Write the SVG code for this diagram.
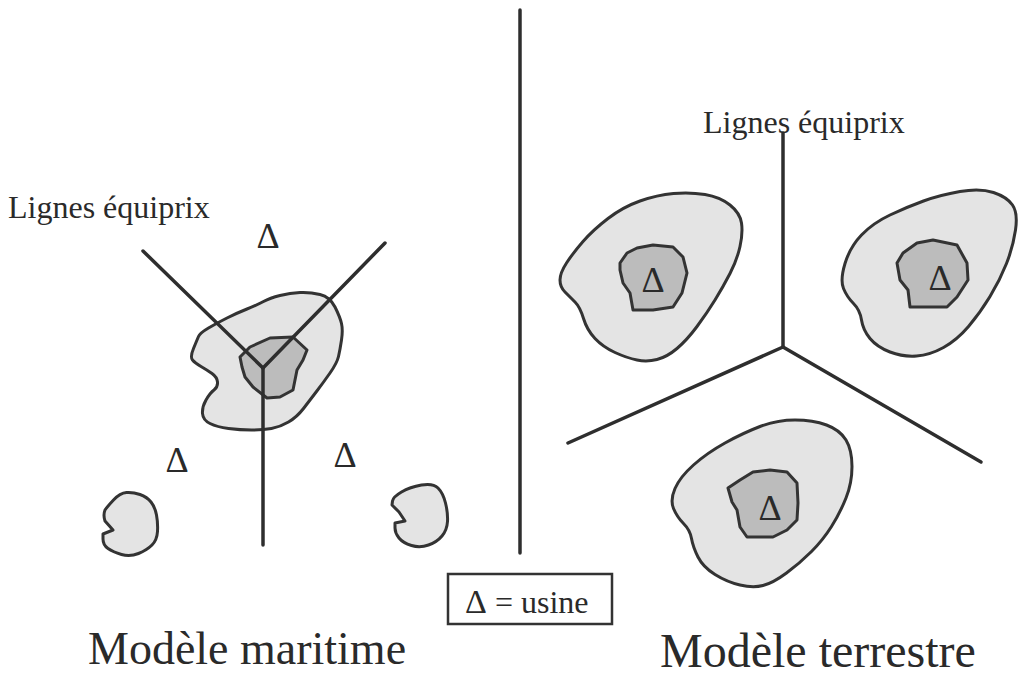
<svg xmlns="http://www.w3.org/2000/svg" width="1019" height="681" viewBox="0 0 1019 681">
<style>
.outer{fill:#e4e4e4;stroke:#333;stroke-width:3;stroke-linejoin:round}
.inner{fill:#bcbcbc;stroke:#333;stroke-width:3;stroke-linejoin:round}
.ln{stroke:#2e2e2e;stroke-width:3.5;fill:none;stroke-linecap:round}
.t{font-family:"Liberation Serif","Times New Roman",serif;fill:#2a2a2a}
.u{font-family:"Liberation Serif","Times New Roman",serif;fill:#2a2a2a;font-size:36px;text-anchor:middle}
</style>
<rect width="1019" height="681" fill="#fff"/>

<g id="maritime-blob">
<path class="outer" d="M263.5,301.5 Q270,298 280,295.5 Q290,293 300,292.5 Q310,292 320,294.5 Q330,297 335,307 Q340,317 341.5,323.5 Q343,330 341.5,340 Q340,350 338.5,356.5 Q337,363 330,373 Q323,383 316.5,391.5 Q310,400 303.5,408.5 Q297,417 288.5,422 Q280,427 271.5,428.5 Q263,430 251.5,430 Q240,430 228.5,428.5 Q217,427 210,423.5 Q203,420 202.5,413.5 Q202,407 206,400 Q210,393 214,390 Q218,387 217.5,382 Q217,377 212,373.5 Q207,370 201,366.5 Q195,363 192.5,360 Q190,357 193.5,348.5 Q197,340 198.5,336.5 Q200,333 208.5,328 Q217,323 227,318 Q237,313 247,309 Q257,305 263.5,301.5 Z"/>
<path class="inner" d="M240,357 L250,347 L270,338 L293,337 L307,350 L303,360 L297,370 L293,390 L280,397 L267,398 L253,387 L245,377 L242,367 Z"/>
</g>

<g id="small-blob-left">
<path class="outer" d="M105,510 Q107,507 113.5,500 Q120,493 126.5,492.5 Q133,492 140,494.5 Q147,497 151,502 Q155,507 156.5,515 Q158,523 157.5,531.5 Q157,540 152,545 Q147,550 138.5,553.5 Q130,557 121.5,554.5 Q113,552 108,548.5 Q103,545 103,539 L103,534 L113,530 L105,521 Q103,515 105,510 Z"/>
</g>
<g id="small-blob-right">
<path class="outer" d="M392.5,501 Q393,497 401.5,492 Q410,487 421.5,485 Q433,483 438,488 Q443,493 445.5,503 Q448,513 447.5,521.5 Q447,530 442,536 Q437,542 428.5,545 Q420,548 411.5,545.5 Q403,543 399,538 Q395,533 395,528 L395,523 L405,521 L399,512 L392,505 Z"/>
</g>

<g id="terrestre-blob-a">
<path class="outer" d="M560,280 Q560,273 566.5,263 Q573,253 583,241.5 Q593,230 608,218.5 Q623,207 640,201 Q657,195 673.5,193.5 Q690,192 705,194.5 Q720,197 730,205 Q740,213 741.5,223 Q743,233 740,246.5 Q737,260 730,273.5 Q723,287 715,300 Q707,313 697,326.5 Q687,340 677,348.5 Q667,357 657,359.5 Q647,362 637,360 Q627,358 615,352.5 Q603,347 595,338.5 Q587,330 583.5,318.5 Q580,307 575,302 Q570,297 565,292 Q560,287 560,280 Z"/>
<path class="inner" d="M620,263 L627,253 L637,248 L653,245 L673,247 L683,257 L687,273 L682,293 L673,307 L653,310 L633,310 L630,293 L623,283 L620,270 Z"/>
</g>
<g id="terrestre-blob-b">
<path class="outer" d="M843.5,288.5 Q840,280 845,263.5 Q850,247 861.5,235 Q873,223 890,215 Q907,207 923.5,201 Q940,195 960,191.5 Q980,188 993.5,192.5 Q1007,197 1012.5,205 Q1018,213 1015.5,230 Q1013,247 1006.5,263.5 Q1000,280 990,296.5 Q980,313 968.5,326.5 Q957,340 943.5,347.5 Q930,355 916.5,356 Q903,357 890,352 Q877,347 870,338.5 Q863,330 861.5,320 Q860,310 853.5,303.5 Q847,297 843.5,288.5 Z"/>
<path class="inner" d="M897,263 L903,253 L917,243 L933,240 L957,245 L967,263 L968,280 L957,297 L947,307 L910,307 L908,290 L900,280 Z"/>
</g>
<g id="terrestre-blob-c">
<path class="outer" d="M673.5,508.5 Q670,500 675,488.5 Q680,477 693.5,465 Q707,453 725,443 Q743,433 760,426.5 Q777,420 795,420 Q813,420 826.5,425 Q840,430 846,440 Q852,450 852,466.5 Q852,483 846,498 Q840,513 831.5,526.5 Q823,540 811.5,551.5 Q800,563 786.5,573 Q773,583 763,585.5 Q753,588 740,585 Q727,582 715,574.5 Q703,567 698,557 Q693,547 691.5,538.5 Q690,530 683.5,523.5 Q677,517 673.5,508.5 Z"/>
<path class="inner" d="M728,488 L740,480 L753,472 L770,470 L787,472 L797,483 L798,503 L797,520 L787,530 L773,537 L747,537 L740,527 L737,510 L732,502 Z"/>
</g>

<g id="connectors">
<line class="ln" x1="143" y1="251" x2="263" y2="368"/>
<line class="ln" x1="385" y1="243" x2="263" y2="368"/>
<line class="ln" x1="263" y1="368" x2="263" y2="545"/>
<line class="ln" x1="520" y1="10" x2="520" y2="553"/>
<line class="ln" x1="783" y1="133" x2="783" y2="347"/>
<line class="ln" x1="783" y1="347" x2="568" y2="443"/>
<line class="ln" x1="783" y1="347" x2="981" y2="462"/>
</g>

<g id="labels">
<text class="t" x="8" y="218" font-size="32">Lignes équiprix</text>
<text class="t" x="703" y="133" font-size="32">Lignes équiprix</text>
<text class="u" x="268" y="248">Δ</text>
<text class="u" x="177" y="472">Δ</text>
<text class="u" x="345" y="467">Δ</text>
<text class="u" x="653" y="292">Δ</text>
<text class="u" x="940" y="290">Δ</text>
<text class="u" x="770" y="520">Δ</text>
<text class="t" x="88" y="664" font-size="46">Modèle maritime</text>
<text class="t" x="660" y="667" font-size="48">Modèle terrestre</text>
</g>

<g id="legend">
<rect x="448" y="574" width="164" height="50" fill="#fff" stroke="#333" stroke-width="2.5"/>
<text class="t" x="465" y="613" font-size="32"><tspan font-size="34">Δ</tspan> = usine</text>
</g>
</svg>
